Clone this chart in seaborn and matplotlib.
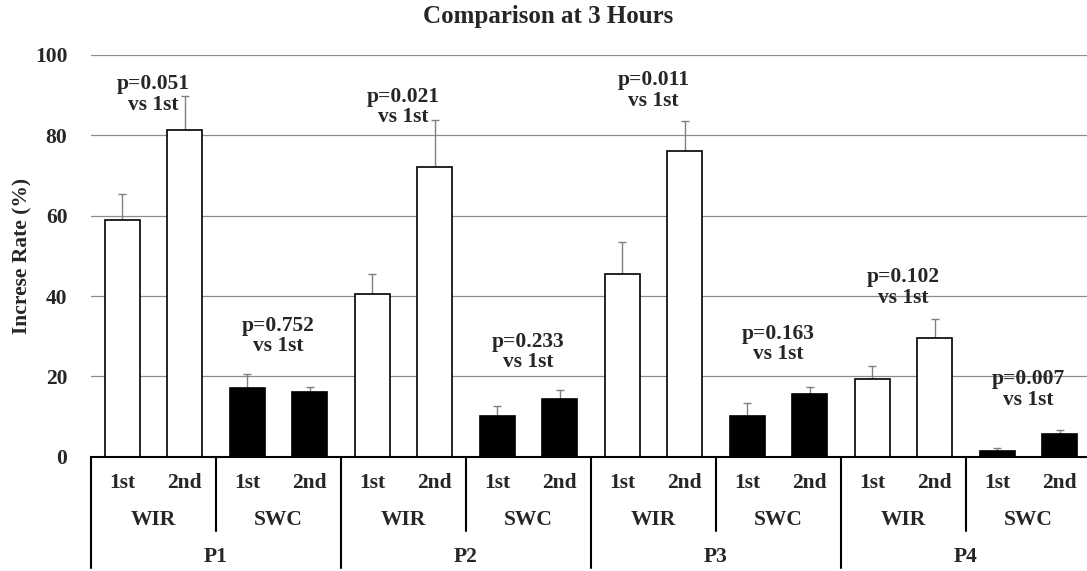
import numpy as np
import pandas as pd
import seaborn as sns
import matplotlib.pyplot as plt
import matplotlib.transforms as mtransforms
from itertools import product

periods = ['P1', 'P2', 'P3', 'P4']
methods = ['WIR', 'SWC']
trials = ['1st', '2nd']

# one value per bar, order P1 WIR 1st, P1 WIR 2nd, P1 SWC 1st, ...
values = [59.0, 81.3, 17.2, 16.1,
          40.6, 72.2, 10.1, 14.4,
          45.6, 76.0, 10.1, 15.6,
          19.3, 29.5, 1.3, 5.7]
errors = [6.3, 8.5, 3.3, 1.2,
          5.0, 11.5, 2.4, 2.3,
          7.9, 7.5, 3.3, 1.7,
          3.4, 4.9, 0.9, 0.9]
p_values = ['0.051', '0.752', '0.021', '0.233', '0.011', '0.163', '0.102', '0.007']
p_label_y = [85, 25, 82, 21, 86, 23, 37, 11.6]

rows = list(product(periods, methods, trials))
df = pd.DataFrame(rows, columns=['period', 'method', 'trial'])
df['bar'] = df['period'] + '-' + df['method'] + '-' + df['trial']
df['value'] = values

sns.set_theme(style='white')
plt.rcParams['font.family'] = ['Liberation Serif', 'DejaVu Serif']
plt.rcParams['font.weight'] = 'bold'
FS = 15.5

fig = plt.figure(figsize=(10.87, 5.71), dpi=100)
ax = fig.add_axes([91 / 1087, 0.2002, 1000 / 1087, 0.7035])

sns.barplot(data=df, x='bar', y='value', hue='method',
            palette={'WIR': 'white', 'SWC': 'black'}, dodge=False,
            width=0.56, edgecolor='black', linewidth=1.2, legend=False,
            ax=ax, zorder=2)

xs = np.arange(len(values))
ax.errorbar(xs, values, yerr=[np.zeros(len(values)), errors], fmt='none',
            ecolor='#808080', elinewidth=1.0, capsize=3.2, capthick=1.0, zorder=1)

ax.set_xlim(-0.5, len(values) - 0.5)
ax.set_ylim(0, 100)
ax.set_yticks(range(0, 101, 20))
ax.yaxis.grid(True, color='#8c8c8c', linewidth=0.9)
ax.set_axisbelow(True)
for s in ['left', 'right', 'top']:
    ax.spines[s].set_visible(False)
ax.spines['bottom'].set_color('black')
ax.spines['bottom'].set_linewidth(1.5)
ax.tick_params(axis='y', length=0, pad=17, labelsize=FS)
for lbl in ax.get_yticklabels():
    lbl.set_fontweight('bold')
ax.set_xticks([])
ax.set_xlabel('')
ax.set_ylabel('Increse Rate (%)', fontsize=FS, fontweight='bold')
ax.yaxis.set_label_coords(-0.059, 0.5)

# p-value notes, centred over each pair
for i, (p, yy) in enumerate(zip(p_values, p_label_y)):
    ax.text(2 * i + 0.5, yy, 'p=' + p + '\nvs 1st', ha='center', va='bottom',
            fontsize=FS, fontweight='bold', linespacing=1.05)

# multi-level category axis
tr = mtransforms.blended_transform_factory(ax.transData, fig.transFigure)
y_trial = 1 - 483 / 571
y_method = 1 - 520 / 571
y_period = 1 - 556.7 / 571
for i, (per, met, tri) in enumerate(rows):
    ax.text(i, y_trial, tri, transform=tr, ha='center', va='center',
            fontsize=FS, fontweight='bold')
for j in range(len(periods) * len(methods)):
    ax.text(2 * j + 0.5, y_method, methods[j % 2], transform=tr, ha='center',
            va='center', fontsize=FS, fontweight='bold')
for k, per in enumerate(periods):
    ax.text(4 * k + 1.5, y_period, per, transform=tr, ha='center', va='center',
            fontsize=FS, fontweight='bold')

y_axis = 0.2002
for k in range(len(periods) + 1):
    ax.plot([4 * k - 0.5] * 2, [y_axis, 1 - 568.3 / 571], transform=tr,
            color='black', linewidth=1.5, clip_on=False)
for k in range(len(periods)):
    ax.plot([4 * k + 1.5] * 2, [y_axis, 1 - 530.7 / 571], transform=tr,
            color='black', linewidth=1.5, clip_on=False)

fig.text(548 / 1087, 1 - 17 / 571, 'Comparison at 3 Hours', ha='center',
         va='center', fontsize=18, fontweight='bold')

fig.savefig('out.png', dpi=100)
